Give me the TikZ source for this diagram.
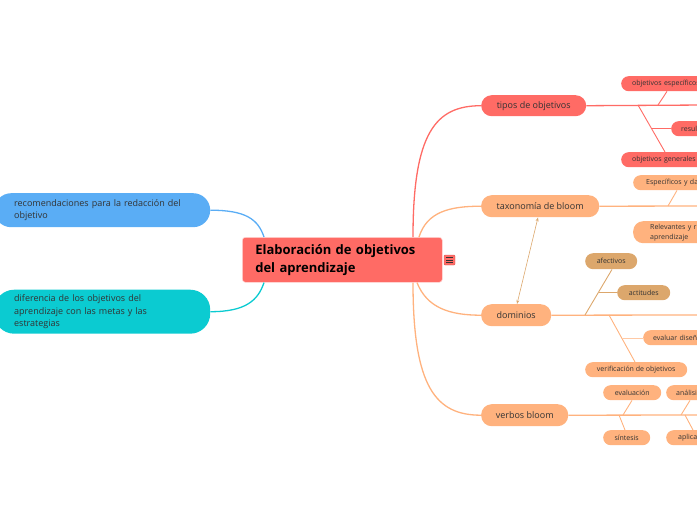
\documentclass[tikz,border=0pt]{standalone}
\usepackage{fontspec}
\setmainfont{Open Sans}
\usetikzlibrary{arrows.meta,calc}
\definecolor{redc}{HTML}{FF6B65}
\definecolor{orgc}{HTML}{FFB27E}
\definecolor{tanc}{HTML}{DCA76C}
\definecolor{bluc}{HTML}{5AADF5}
\definecolor{cyac}{HTML}{0BCBD1}
\definecolor{txtc}{HTML}{333333}
\begin{document}
\begin{tikzpicture}[x=1pt,y=-1pt,
  bigbox/.style={rounded corners=10.5pt, minimum height=21pt, inner sep=0pt, anchor=north west,
     font=\fontsize{9}{11}\selectfont, text=txtc},
  smbox/.style={rounded corners=7.5pt, minimum height=15pt, inner sep=0pt, anchor=north west,
     font=\fontsize{7}{8}\selectfont, text=txtc},
  leftbox/.style={anchor=north west, align=left, inner ysep=0pt, inner xsep=20pt, text width=176pt,
     font=\fontsize{9}{12.5}\selectfont, text=txtc},
  mainline/.style={line width=1.3pt},
  subline/.style={line width=0.9pt}]
\useasboundingbox (0,0) rectangle (697,520);
\clip (0,0) rectangle (697,520);

% central node
\node[anchor=north west, fill=redc, draw=white!75!redc, line width=0.6pt, rounded corners=3pt,
  minimum height=45pt, text width=174pt, inner xsep=13pt, inner ysep=0pt, align=left,
  font=\bfseries\fontsize{13}{18}\selectfont, text=black] (c) at (242,237)
  {Elaboración de objetivos\\del aprendizaje};
\node[fill=redc, draw=redc!85!black, line width=0.4pt, rounded corners=1pt, minimum width=11pt,
  minimum height=10pt, inner sep=0pt] (menu) at (449.5,260) {};
\foreach \dy in {-2.3,0,2.3}
  \draw[black!80, line width=0.8pt] ($(menu.center)+(-3.3,\dy)$) -- ($(menu.center)+(3.3,\dy)$);

% left nodes
\node[leftbox, fill=bluc, rounded corners=17pt, minimum height=34pt] (rec) at (-6,193)
  {recomendaciones para la redacción del\\objetivo};
\node[leftbox, fill=cyac, rounded corners=20pt, minimum height=44pt] (dif) at (-6,289.5)
  {diferencia de los objetivos del\\aprendizaje con las metas y las\\estrategias};

% main branches
\node[bigbox, fill=redc, minimum width=105pt] (tipos) at (481,95) {tipos de objetivos};
\node[bigbox, fill=orgc, minimum width=118pt, minimum height=22pt] (tax) at (481,195) {taxonomía de bloom};
\node[bigbox, fill=orgc, minimum width=70pt, minimum height=22pt] (dom) at (481,304) {dominios};
\node[bigbox, fill=orgc, minimum width=87pt, minimum height=22pt] (verb) at (481,404) {verbos bloom};

% curves from centre
\draw[redc, mainline] ($(c.north west)+(171,0)$) .. controls +(0,-105) and +(-45,0) .. (tipos.west);
\draw[orgc, mainline] ($(c.north west)+(177,0)$) .. controls +(8,-25) and +(-32,0) .. (tax.west);
\draw[orgc, mainline] ($(c.south west)+(175,0)$) .. controls +(10,25) and +(-32,0) .. (dom.west);
\draw[orgc, mainline] ($(c.south west)+(171,0)$) .. controls +(0,105) and +(-45,0) .. (verb.west);
\draw[bluc, mainline] (rec.east) .. controls +(35,0) and +(-6,-18) .. ($(c.north west)+(22,0)$);
\draw[cyac, mainline] (dif.east) .. controls +(35,0) and +(-6,18) .. ($(c.south west)+(22,0)$);

% relation arrow
\draw[tanc, line width=0.6pt, {Stealth[length=4pt,width=3pt]}-{Stealth[length=4pt,width=3pt]}]
  ($(tax.south west)+(57,0)$) -- ($(dom.north west)+(36,0)$);

% branch lines to the right edge
\coordinate (tipos-r) at (705,105);
\coordinate (tax-r) at (705,206);
\coordinate (dom-r) at (705,315);
\coordinate (verb-r) at (705,415);
\draw[redc, mainline] (tipos.east) -- (tipos-r);
\draw[orgc, mainline] (tax.east) -- (tax-r);
\draw[orgc, mainline] (dom.east) -- (dom-r);
\draw[orgc, mainline] (verb.east) -- (verb-r);

% tipos de objetivos children
\node[smbox, fill=redc, text width=80pt, inner xsep=11pt, align=left] (oe) at (621,76) {objetivos específicos};
\node[smbox, fill=redc, text width=50pt, inner xsep=10pt, align=left] (res) at (671,121) {resultados};
\node[smbox, fill=redc, text width=80pt, inner xsep=11pt, align=left] (og) at (621,152) {objetivos generales};
\coordinate (t1) at (658,105);
\coordinate (t2) at (638,105);
\coordinate (t3) at (651,128);
\draw[redc, subline] (t1) -- ($(oe.south west)+(46,0)$);
\draw[redc, subline] (t2) -- ($(og.north west)+(44,0)$);
\draw[redc, subline] (t3) -- (res.west |- t3);

% taxonomia children
\node[smbox, fill=orgc, text width=70pt, inner xsep=13pt, align=left] (esp) at (633,175) {Específicos y da};
\node[smbox, fill=orgc, minimum height=22pt, rounded corners=10pt, text width=70pt, inner xsep=17pt,
  align=left, font=\fontsize{7}{10}\selectfont] (rel) at (633,221) {Relevantes y r\\aprendizaje};
\coordinate (x1) at (668,206);
\draw[orgc, subline] (x1) -- ($(esp.south west)+(44,0)$);

% dominios children
\node[smbox, fill=tanc, minimum width=52pt, minimum height=16pt, rounded corners=8pt] (afe) at (585,253) {afectivos};
\node[smbox, fill=tanc, minimum width=53pt] (act) at (617,285) {actitudes};
\node[smbox, fill=orgc, text width=60pt, inner xsep=10pt, align=left] (eva) at (643,330) {evaluar diseño};
\node[smbox, fill=orgc, minimum width=102pt] (ver) at (585,362) {verificación de objetivos};
\coordinate (d1) at (585,315);
\coordinate (d2) at (598.5,292);
\coordinate (d3) at (609,315);
\coordinate (d4) at (622,338);
\draw[tanc, subline] (d1) -- ($(afe.south west)+(27,0)$);
\draw[tanc, subline] (d2) -- (act.west |- d2);
\draw[orgc, subline] (d3) -- ($(ver.north west)+(50,0)$);
\draw[orgc!70!white, subline] (d4) -- (eva.west |- d4);

% verbos bloom children
\node[smbox, fill=orgc, minimum width=58pt] (evl) at (603,385) {evaluación};
\node[smbox, fill=orgc, text width=40pt, inner xsep=10pt, align=left] (ana) at (666,385) {análisis};
\node[smbox, fill=orgc, minimum width=47pt] (sin) at (603,430) {síntesis};
\node[smbox, fill=orgc, text width=45pt, inner xsep=12pt, align=left] (apl) at (666,430) {aplicación};
\coordinate (v1) at (623,415);
\coordinate (v2) at (619,415);
\coordinate (v3) at (681,415);
\coordinate (v4) at (685,415);
\draw[orgc, subline] (v1) -- ($(evl.south west)+(29,0)$);
\draw[orgc, subline] (v2) -- ($(sin.north west)+(22,0)$);
\draw[orgc, subline] (v3) -- ($(ana.south west)+(24,0)$);
\draw[orgc, subline] (v4) -- ($(apl.north west)+(27,0)$);
\end{tikzpicture}
\end{document}
